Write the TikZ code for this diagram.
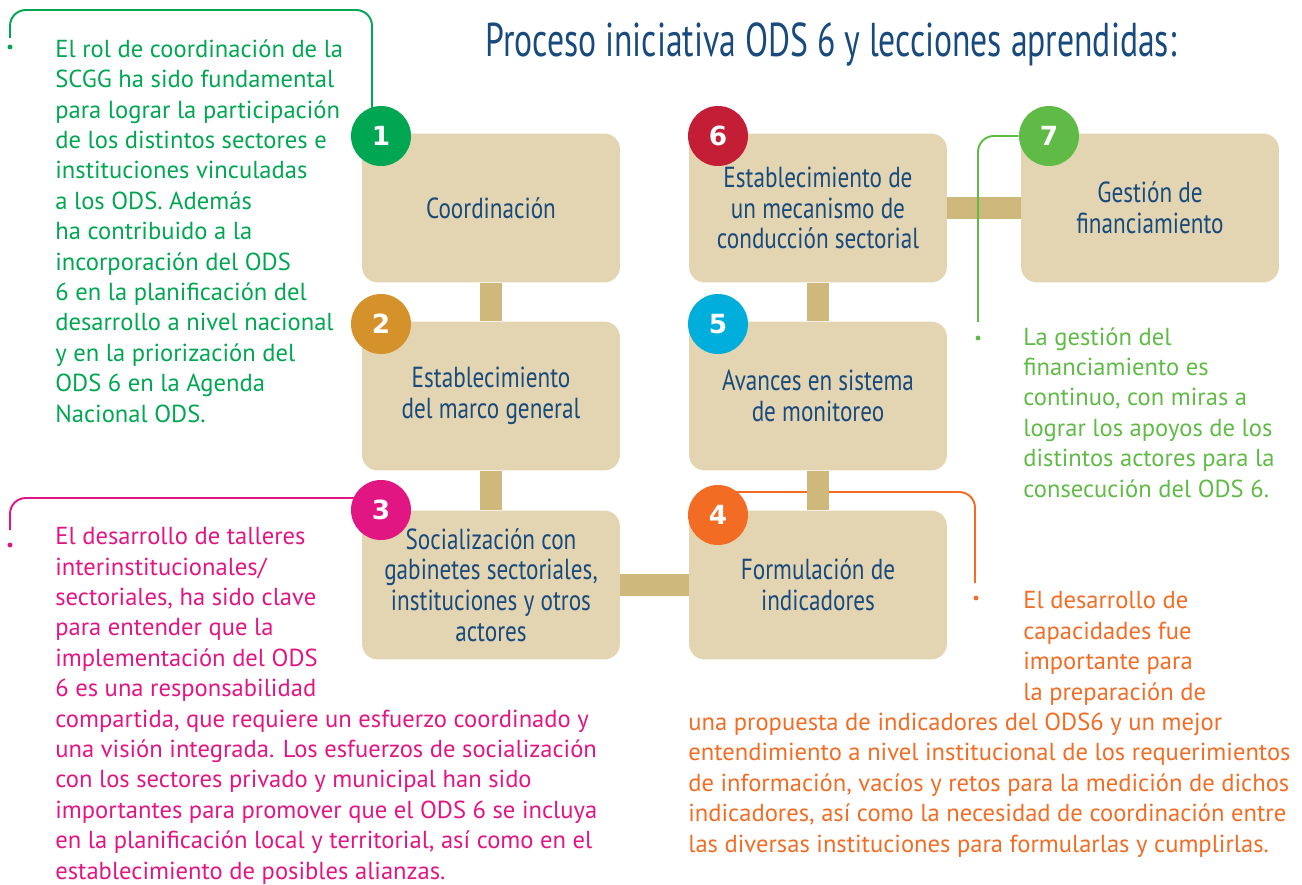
\documentclass[tikz,border=0pt]{standalone}
\usepackage{fontspec}
\setmainfont{PT Sans}
\newfontfamily\condfont[FakeStretch=0.80]{PT Sans}
\newfontfamily\titlefont[FakeStretch=0.71]{PT Sans}
\newfontfamily\numfont{DejaVu Sans}
\usetikzlibrary{backgrounds}
\definecolor{navy}{RGB}{24,74,125}
\definecolor{boxtan}{RGB}{227,213,178}
\definecolor{linktan}{RGB}{207,184,124}
\definecolor{ods1}{RGB}{0,166,81}
\definecolor{ods2}{RGB}{214,146,42}
\definecolor{ods3}{RGB}{226,22,130}
\definecolor{ods4}{RGB}{242,108,36}
\definecolor{ods5}{RGB}{0,174,219}
\definecolor{ods6}{RGB}{196,30,54}
\definecolor{ods7}{RGB}{96,187,70}
\tikzset{
  stage/.style={fill=boxtan, rounded corners=9pt, minimum width=5.16cm, minimum height=2.98cm, align=center, text=navy, font=\condfont\fontsize{16.5}{17.4}\selectfont},
  badge/.style={circle, fill=#1, minimum size=1.2cm, inner sep=0pt, text=white, font=\numfont\bfseries\fontsize{15}{15}\selectfont},
  link/.style={draw=linktan, line width=0.44cm},
  callout/.style={draw=#1, line width=1.1pt, rounded corners=9pt},
  note/.style={anchor=base west, inner sep=0pt, align=left, text=#1, font=\fontsize{14}{17.3}\selectfont}
}
\begin{document}
\begin{tikzpicture}[x=0.02cm,y=-0.02cm]
\useasboundingbox (0,0) rectangle (1302,885);
\node[anchor=base, text=navy, font=\titlefont\fontsize{27}{27}\selectfont] (title) at (831,57) {Proceso iniciativa ODS 6 y lecciones aprendidas:};

\node[stage] (s1) at (491,208) {Coordinación};
\node[stage] (s2) at (491,396) {Establecimiento\\del marco general};
\node[stage] (s3) at (491,585) {Socialización con\\gabinetes sectoriales,\\instituciones y otros\\actores};
\node[stage] (s4) at (818,585) {Formulación de\\indicadores};
\node[stage] (s5) at (818,396) {Avances en sistema\\de monitoreo};
\node[stage] (s6) at (818,208) {Establecimiento de\\un mecanismo de\\conducción sectorial};
\node[stage] (s7) at (1150,208) {Gestión de\\financiamiento};

\node[badge=ods1] (n1) at (381,136) {1};
\node[badge=ods2] (n2) at (381,324) {2};
\node[badge=ods3] (n3) at (381,510) {3};
\node[badge=ods4] (n4) at (718,515) {4};
\node[badge=ods5] (n5) at (718,324) {5};
\node[badge=ods6] (n6) at (718,136) {6};
\node[badge=ods7] (n7) at (1049,136) {7};

\coordinate (gEnd) at (10,38); \coordinate (pEnd) at (10,530);
\coordinate (lEnd) at (978,322); \coordinate (oEnd) at (975,583);
\begin{scope}[on background layer]
\draw[callout=ods4] (n4 |- 0,492) -| (oEnd);
\draw[link] (s1) -- (s2) -- (s3) -- (s4) -- (s5) -- (s6) -- (s7);
\draw[callout=ods1] (gEnd) |- (372,10) -- (n1 -| 372,0);
\draw[callout=ods3] (pEnd) |- (n3 |- 0,498);
\draw[callout=ods7] (n7) -| (lEnd);
\end{scope}
\fill[ods1] (10,47) circle (1.4pt); \fill[ods3] (10,545) circle (1.4pt);
\fill[ods7] (978,338) circle (1.4pt); \fill[ods4] (976,598) circle (1.4pt);

% base anchor of a multi-line note = baseline of its last line
\node[note=ods1] (t1) at (55,422) {El rol de coordinación de la\\SCGG ha sido fundamental\\para lograr la participación\\de los distintos sectores e\\instituciones vinculadas\\a los ODS. Además\\ha contribuido a la\\incorporación del ODS\\6 en la planificación del\\desarrollo a nivel nacional\\y en la priorización del\\ODS 6 en la Agenda\\Nacional ODS.};
\node[note=ods3] (t3) at (55,879) {El desarrollo de talleres\\interinstitucionales/\\sectoriales, ha sido clave\\para entender que la\\implementación del ODS\\6 es una responsabilidad\\compartida, que requiere un esfuerzo coordinado y\\una visión integrada. Los esfuerzos de socialización\\con los sectores privado y municipal han sido\\importantes para promover que el ODS 6 se incluya\\en la planificación local y territorial, así como en el\\establecimiento de posibles alianzas.};
\node[note=ods7] (t7) at (1023,497) {La gestión del\\financiamiento es\\continuo, con miras a\\lograr los apoyos de los\\distintos actores para la\\consecución del ODS 6.};
\node[note=ods4] (t4a) at (1023,700) {El desarrollo de\\capacidades fue\\importante para\\la preparación de};
\node[note=ods4] (t4b) at (688,852) {una propuesta de indicadores del ODS6 y un mejor\\entendimiento a nivel institucional de los requerimientos\\de información, vacíos y retos para la medición de dichos\\indicadores, así como la necesidad de coordinación entre\\las diversas instituciones para formularlas y cumplirlas.};
\end{tikzpicture}
\end{document}
